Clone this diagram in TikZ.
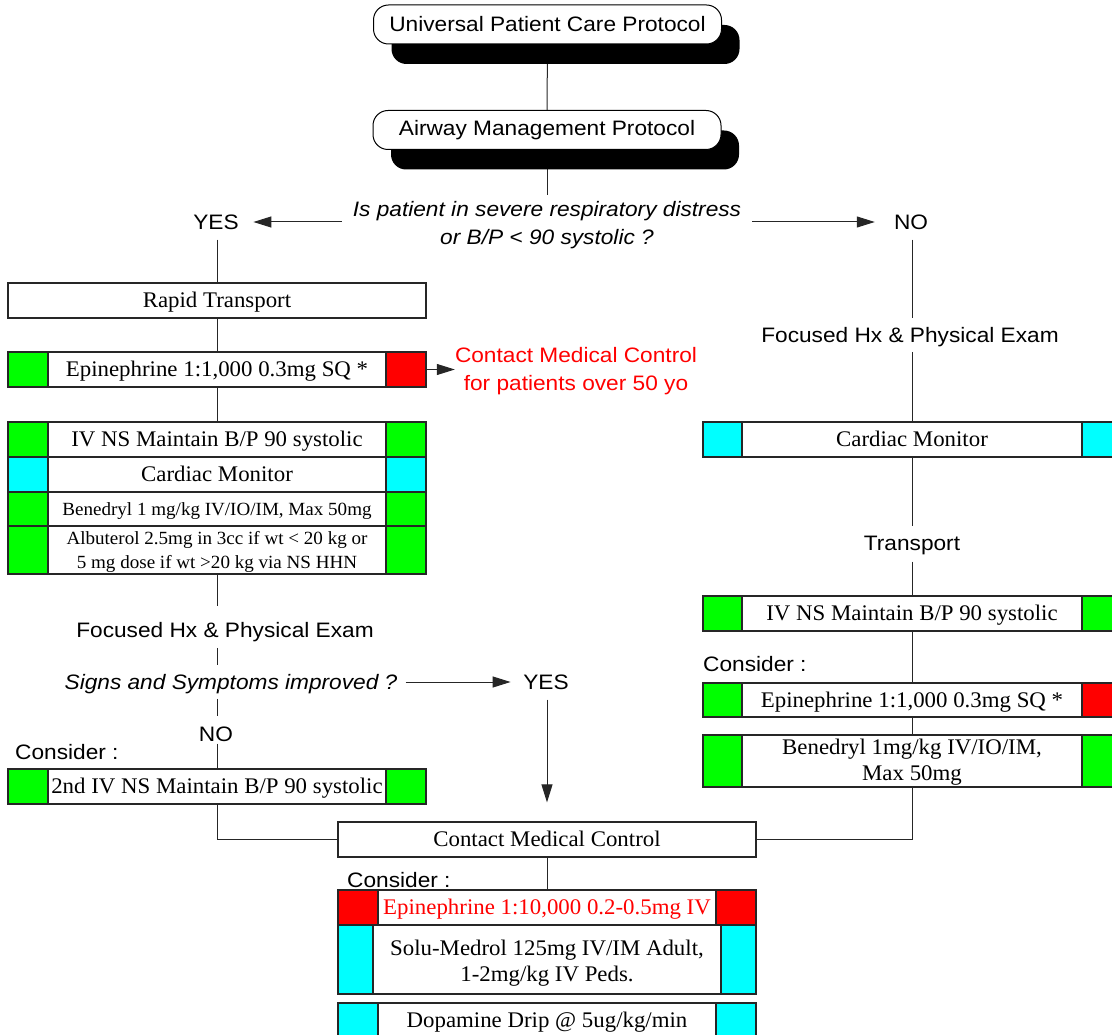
\documentclass[tikz,border=0pt]{standalone}
\usepackage{fontspec}
\setmainfont{Liberation Serif}[FakeStretch=1.025]
\newfontfamily\sansf{Liberation Sans}[FakeStretch=1.085]
\usetikzlibrary{arrows.meta,shadows}
\definecolor{grn}{RGB}{0,255,0}
\definecolor{cyn}{RGB}{0,255,255}
\definecolor{rd}{RGB}{255,0,0}
\newcommand\serifM{\fontsize{22.3}{26}\selectfont}
\newcommand\serifS{\fontsize{18.6}{24}\selectfont}
\newcommand\sansM{\sansf\fontsize{20.9}{28.5}\selectfont}
\pgfdeclarelayer{bg}
\pgfsetlayers{bg,main}
\def\sqw{40}
\newcommand\cbox[9][]{%
  \node[boxbase, minimum width={(#5-#3)*1pt}, minimum height={(#6-#4)*1pt}, #1] (#2) at ({(#3+#5)/2},{(#4+#6)/2}) {#9};
  \filldraw[boxline, fill=#7] (#3,#4) rectangle ({#3+\sqw},#6);
  \filldraw[boxline, fill=#8] ({#5-\sqw},#4) rectangle (#5,#6);
}
\begin{document}
\begin{tikzpicture}[x=1pt,y=-1pt,
  ln/.style={line width=1pt, draw=black!85},
  arr/.style={ln, -{Triangle[length=18pt,width=11pt]}},
  boxline/.style={draw=black!85, line width=1.2pt},
  boxbase/.style={boxline, fill=white, inner sep=0pt, align=center, font=\serifM},
  sl/.style={text height=15pt, text depth=0.2pt},
  sls/.style={text height=12.6pt, text depth=0.3pt, font=\serifS},
  lbl/.style={inner sep=0pt, font=\sansM, align=center},
  proto/.style={draw=black, line width=1pt, fill=white, rounded corners=15pt,
    minimum width=348pt, minimum height=39pt, inner sep=0pt, font=\sansM,
    general shadow={fill=black, shadow xshift=18pt, shadow yshift=-20pt}}]
\useasboundingbox (0,0) rectangle (1112,1035);
\clip (0,0) rectangle (1112,1035);

% top
\node[proto] (upc) at (547.5,24.5) {Universal Patient Care Protocol};
\node[proto] (amp) at (547,130) {Airway Management Protocol};
\node[lbl, font=\sansM\itshape, inner xsep=11pt] (q) at (547,225) {Is patient in severe respiratory distress\\or B/P < 90 systolic ?};
\node[lbl] (yes1) at (216,222) {YES};
\node[lbl] (no1) at (911,222) {NO};

% left column
\node[boxbase, sl, minimum width=418pt, minimum height=35pt] (rapid) at (217,300.5) {Rapid Transport};
\cbox[sl]{epi1}{8}{352}{426}{387}{grn}{rd}{Epinephrine 1:1,000 0.3mg SQ *}
\node[lbl, text=rd] (red) at (576,371) {Contact Medical Control\\for patients over 50 yo};
\cbox[sl]{iv1}{8}{422}{426}{457}{grn}{grn}{IV NS Maintain B/P 90 systolic}
\cbox[sl]{cm1}{8}{457}{426}{492}{cyn}{cyn}{Cardiac Monitor}
\cbox[sls]{ben1}{8}{492}{426}{526}{grn}{grn}{Benedryl 1 mg/kg IV/IO/IM, Max 50mg}
\cbox[font=\serifS]{alb1}{8}{526}{426}{574}{grn}{grn}{\rule{0pt}{17.7pt}Albuterol 2.5mg in 3cc if wt < 20 kg or\\5 mg dose if wt >20 kg via NS HHN}
\node[lbl] (fx1) at (225,632) {Focused Hx \& Physical Exam};
\node[lbl, font=\sansM\itshape] (signs) at (231,684) {Signs and Symptoms improved ?};
\node[lbl] (yes2) at (546,682) {YES};
\node[lbl] (no2) at (216,734) {NO};
\node[lbl, anchor=west] (cons1) at (15,752) {Consider :};
\cbox[sl]{iv2}{8}{769}{426}{804}{grn}{grn}{2nd IV NS Maintain B/P 90 systolic}

% right column
\node[lbl] (fx2) at (910,337) {Focused Hx \& Physical Exam};
\def\sqw{39}
\cbox[sl]{cm2}{703}{422}{1121}{457}{cyn}{cyn}{Cardiac Monitor}
\node[lbl] (tr) at (912,545) {Transport};
\cbox[sl]{iv3}{703}{596}{1121}{631}{grn}{grn}{IV NS Maintain B/P 90 systolic}
\node[lbl, anchor=west] (cons2) at (703,664) {Consider :};
\cbox[sl]{epi3}{703}{683}{1121}{717}{grn}{rd}{Epinephrine 1:1,000 0.3mg SQ *}
\cbox{ben3}{703}{735}{1121}{787}{grn}{grn}{\rule{0pt}{17pt}Benedryl 1mg/kg IV/IO/IM,\\Max 50mg}

% bottom
\node[boxbase, sl, minimum width=418pt, minimum height=35pt] (cmc) at (547,839.5) {Contact Medical Control};
\node[lbl, anchor=west] (cons3) at (347,880) {Consider :};
\def\sqw{40}
\cbox[sl, text=rd]{epi4}{338}{890}{756}{925}{rd}{rd}{Epinephrine 1:10,000 0.2-0.5mg IV}
\def\sqw{35}
\cbox{solu}{338}{925}{756}{994}{cyn}{cyn}{\rule{0pt}{22pt}Solu-Medrol 125mg IV/IM Adult,\\1-2mg/kg IV Peds.}
\def\sqw{40}
\cbox[sl]{dop}{338}{1003}{756}{1038}{cyn}{cyn}{Dopamine Drip @ 5ug/kg/min}

% connectors
\begin{pgfonlayer}{bg}
\draw[ln] (upc.south) -- (amp.north);
\draw[ln, shorten >=6pt] (amp.south) -- (q.north);
\draw[arr, shorten >=14.5pt] (q.west |- yes1.east) -- (yes1.east);
\draw[arr, shorten >=19pt] (q.east |- no1.west) -- (no1.west);
% left
\draw[ln, shorten <=10pt] (rapid.north |- yes1.south) -- (rapid.north);
\draw[ln] (rapid.south) -- (epi1.north);
\draw[ln] (epi1.south) -- (iv1.north);
\draw[arr] (epi1.east) -- (epi1.east -| red.west);
\draw[ln, shorten >=16pt] (alb1.south) -- (alb1.south |- fx1.north);
\draw[ln, shorten <=6pt, shorten >=9pt] (alb1.south |- fx1.south) -- (alb1.south |- signs.north);
\draw[ln, shorten <=5pt, shorten >=10pt] (alb1.south |- signs.south) -- (alb1.south |- no2.north);
\draw[ln, shorten <=2pt] (iv2.north |- no2.south) -- (iv2.north);
\draw[arr, shorten <=8pt, shorten >=12.5pt] (yes2.west -| signs.east) -- (yes2.west);
\draw[arr, shorten <=10pt, shorten >=19pt] (cmc.north |- yes2.south) -- (cmc.north);
\draw[ln] (iv2.south) |- (cmc.west);
% right
\draw[ln, shorten <=10pt, shorten >=9pt] (cm2.north |- no1.south) -- (cm2.north |- fx2.north);
\draw[ln, shorten <=5pt] (cm2.north |- fx2.south) -- (cm2.north);
\draw[ln, shorten >=9pt] (cm2.south) -- (tr.north);
\draw[ln, shorten <=7pt] (tr.south) -- (iv3.north);
\draw[ln] (iv3.south) -- (epi3.north);
\draw[ln] (epi3.south) -- (ben3.north);
\draw[ln] (ben3.south) |- (cmc.east);
% bottom
\draw[ln] (cmc.south) -- (epi4.north);
\end{pgfonlayer}
\end{tikzpicture}
\end{document}
